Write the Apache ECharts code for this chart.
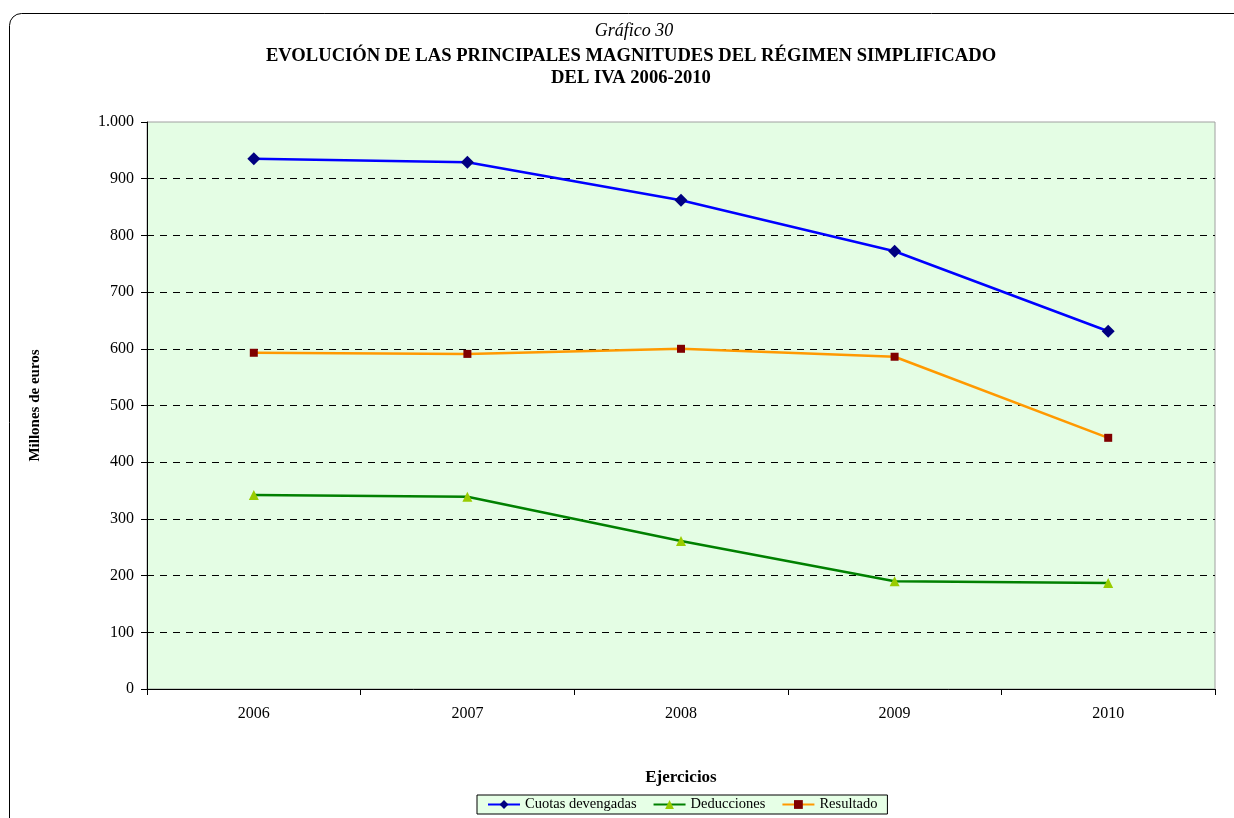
<!DOCTYPE html>
<html>
<head>
<meta charset="utf-8">
<script src="https://cdn.jsdelivr.net/npm/echarts@6/dist/echarts.min.js"></script>
<style>
  html, body { margin: 0; padding: 0; background: #fff; }
  #chart { width: 1234px; height: 818px; }
</style>
</head>
<body>
<div id="chart"></div>
<script>
// datos
var years = ['2006', '2007', '2008', '2009', '2010'];
var cuotas = [935, 929, 862, 772, 631];
var deducciones = [342, 339, 261, 190, 187];
var resultado = [593, 591, 600, 586, 443];

var serif = '"Liberation Serif", "Times New Roman", serif';

var myChart = echarts.init(document.getElementById('chart'));

var option = {
  backgroundColor: '#fff',
  animation: false,
  textStyle: { fontFamily: serif },
  graphic: [{
    type: 'rect',
    silent: true,
    shape: { x: 9.5, y: 13.5, width: 1260, height: 840, r: 12 },
    style: { fill: 'none', stroke: '#000', lineWidth: 1 }
  }],
  title: [{
    text: 'Gráfico 30',
    left: 629,
    textAlign: 'center',
    top: 17,
    textStyle: { fontFamily: serif, fontStyle: 'italic', fontWeight: 'normal', fontSize: 18, color: '#000' }
  }, {
    text: 'EVOLUCIÓN DE LAS PRINCIPALES MAGNITUDES DEL RÉGIMEN SIMPLIFICADO\nDEL IVA 2006-2010',
    left: 626,
    textAlign: 'center',
    top: 40,
    textStyle: { fontFamily: serif, fontWeight: 'bold', fontSize: 18.6, color: '#000', lineHeight: 22 }
  }],
  legend: {
    bottom: 4,
    left: 477,
    itemWidth: 32,
    itemHeight: 11,
    itemGap: 16,
    padding: [2, 10],
    backgroundColor: '#e6ffe6',
    borderColor: '#000',
    borderWidth: 1,
    borderRadius: 0,
    textStyle: { fontFamily: serif, fontSize: 14.5, color: '#000' },
    data: ['Cuotas devengadas', 'Deducciones', 'Resultado']
  },
  grid: {
    left: 147,
    right: 19,
    top: 122,
    bottom: 129,
    show: true,
    backgroundColor: '#e4fde4',
    borderColor: '#a0a0a0',
    borderWidth: 1,
    containLabel: false
  },
  xAxis: {
    type: 'category',
    data: years,
    boundaryGap: true,
    name: 'Ejercicios',
    nameLocation: 'middle',
    nameGap: 80,
    nameTextStyle: { fontFamily: serif, fontWeight: 'bold', fontSize: 17, color: '#000' },
    axisLine: { lineStyle: { color: '#000', width: 1 } },
    axisTick: { show: true, length: 6, lineStyle: { color: '#000' } },
    axisLabel: { fontFamily: serif, fontSize: 16, color: '#000', margin: 17 },
    splitLine: { show: false }
  },
  yAxis: {
    type: 'value',
    min: 0,
    max: 1000,
    interval: 100,
    name: 'Millones de euros',
    nameLocation: 'middle',
    nameGap: 104,
    nameRotate: 90,
    nameTextStyle: { fontFamily: serif, fontWeight: 'bold', fontSize: 15, color: '#000' },
    axisLine: { show: true, lineStyle: { color: '#000', width: 1 } },
    axisTick: { show: true, length: 6, lineStyle: { color: '#000' } },
    axisLabel: {
      fontFamily: serif, fontSize: 16, color: '#000', margin: 13,
      formatter: function(v) {
        return String(v).replace(/\B(?=(\d{3})+(?!\d))/g, '.');
      }
    },
    splitLine: {
      show: true,
      showMinLine: false,
      showMaxLine: false,
      lineStyle: { color: '#000', type: [7, 6], width: 1 }
    }
  },
  series: [{
    name: 'Cuotas devengadas',
    type: 'line',
    data: cuotas,
    symbol: 'diamond',
    symbolSize: 13,
    lineStyle: { color: '#0000ff', width: 2.5 },
    itemStyle: { color: '#000080' }
  }, {
    name: 'Deducciones',
    type: 'line',
    data: deducciones,
    symbol: 'triangle',
    symbolSize: 10,
    lineStyle: { color: '#008000', width: 2.5 },
    itemStyle: { color: '#99cc00' }
  }, {
    name: 'Resultado',
    type: 'line',
    data: resultado,
    symbol: 'rect',
    symbolSize: 8,
    lineStyle: { color: '#ff9900', width: 2.5 },
    itemStyle: { color: '#800000' }
  }]
};

myChart.setOption(option);
</script>
</body>
</html>
